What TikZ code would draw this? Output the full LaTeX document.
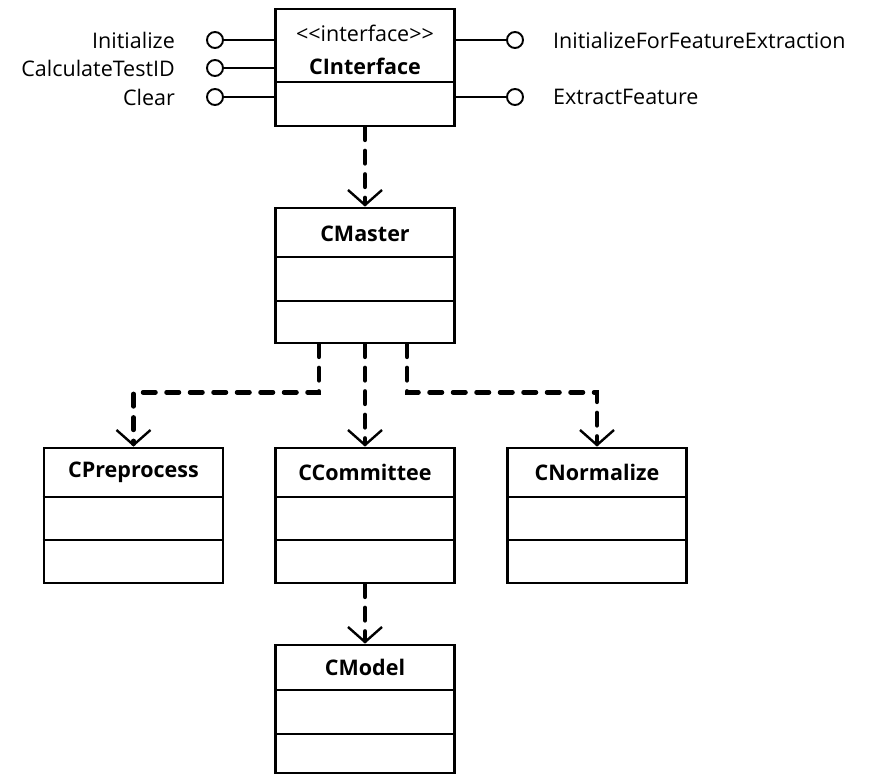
\documentclass[tikz,border=0pt]{standalone}
\usepackage{fontspec}
\setmainfont{Open Sans}
\usetikzlibrary{arrows.meta}

\tikzset{
  classbox/.style={draw=black, line width=2.8pt, rectangle, minimum width=179pt, inner sep=0pt, fill=white},
  compsep/.style={draw=black, line width=2.6pt},
  classtitle/.style={font=\fontsize{21.5}{25}\selectfont\bfseries, inner sep=0pt},
  stereo/.style={font=\fontsize{21.5}{25}\selectfont, inner sep=0pt},
  opname/.style={font=\fontsize{21.5}{25}\selectfont, inner sep=0pt},
  lolli/.style={draw=black, line width=1.9pt, circle, minimum size=16pt, inner sep=0pt, fill=white},
  lollistem/.style={draw=black, line width=1.5pt},
  dep/.style={draw=black, line width=4.5pt, line cap=round, dash pattern=on 12.5pt off 11pt,
              -{Straight Barb[length=15pt, width=34pt, line width=2.4pt 0]}},
}

\begin{document}
\begin{tikzpicture}[x=1pt, y=-1pt]
  \useasboundingbox (0,0) rectangle (871,775);

  % interface class with its provided operations
  \node[classbox, minimum height=117pt] (iface) at (365,67.5) {};
  \draw[compsep] (iface.west |- 0,82) -- (iface.east |- 0,82);
  \node[stereo] (iface-st) at (365,33) {<{}<interface>{}>};
  \node[classtitle] (iface-t) at (365,66) {CInterface};

  \node[lolli] (l1) at (215,40) {};
  \node[lolli] (l2) at (215,68) {};
  \node[lolli] (l3) at (215,97) {};
  \node[lolli] (r1) at (515,40) {};
  \node[lolli] (r2) at (515,97) {};
  \draw[lollistem] (l1.east) -- (l1 -| iface.west);
  \draw[lollistem] (l2.east) -- (l2 -| iface.west);
  \draw[lollistem] (l3.east) -- (l3 -| iface.west);
  \draw[lollistem] (r1.west) -- (r1 -| iface.east);
  \draw[lollistem] (r2.west) -- (r2 -| iface.east);
  \node[opname, anchor=east] (op1) at (175,40) {Initialize};
  \node[opname, anchor=east] (op2) at (175,68) {CalculateTestID};
  \node[opname, anchor=east] (op3) at (175,97) {Clear};
  \node[opname, anchor=west] (op4) at (553,40) {InitializeForFeatureExtraction};
  \node[opname, anchor=west] (op5) at (553,97) {ExtractFeature};

  % CMaster
  \node[classbox, minimum height=135pt] (master) at (365,275.5) {};
  \draw[compsep] (master.west |- 0,257) -- (master.east |- 0,257);
  \draw[compsep] (master.west |- 0,301) -- (master.east |- 0,301);
  \node[classtitle] (master-t) at (365,233.5) {CMaster};

  % CPreprocess
  \node[classbox, minimum height=135pt] (prep) at (133.5,515.5) {};
  \draw[compsep] (prep.west |- 0,497) -- (prep.east |- 0,497);
  \draw[compsep] (prep.west |- 0,540) -- (prep.east |- 0,540);
  \node[classtitle] (prep-t) at (133.5,472.5) {CPreprocess};

  % CCommittee
  \node[classbox, minimum height=135pt] (comm) at (365,515.5) {};
  \draw[compsep] (comm.west |- 0,497) -- (comm.east |- 0,497);
  \draw[compsep] (comm.west |- 0,540) -- (comm.east |- 0,540);
  \node[classtitle] (comm-t) at (365,472.5) {CCommittee};

  % CNormalize
  \node[classbox, minimum height=135pt] (norm) at (597,515.5) {};
  \draw[compsep] (norm.west |- 0,497) -- (norm.east |- 0,497);
  \draw[compsep] (norm.west |- 0,540) -- (norm.east |- 0,540);
  \node[classtitle] (norm-t) at (597,472.5) {CNormalize};

  % CModel
  \node[classbox, minimum height=128pt] (model) at (365,709) {};
  \draw[compsep] (model.west |- 0,690) -- (model.east |- 0,690);
  \draw[compsep] (model.west |- 0,734) -- (model.east |- 0,734);
  \node[classtitle] (model-t) at (365,667) {CModel};

  % dependencies
  \draw[dep] (iface.south) -- (master.north);
  \draw[dep] (master.south) -- (comm.north);
  \draw[dep] ([xshift=-46pt]master.south) -- ++(0,48) -| (prep.north);
  \draw[dep] ([xshift=42pt]master.south) -- ++(0,48) -| (norm.north);
  \draw[dep] (comm.south) -- (model.north);
\end{tikzpicture}
\end{document}
